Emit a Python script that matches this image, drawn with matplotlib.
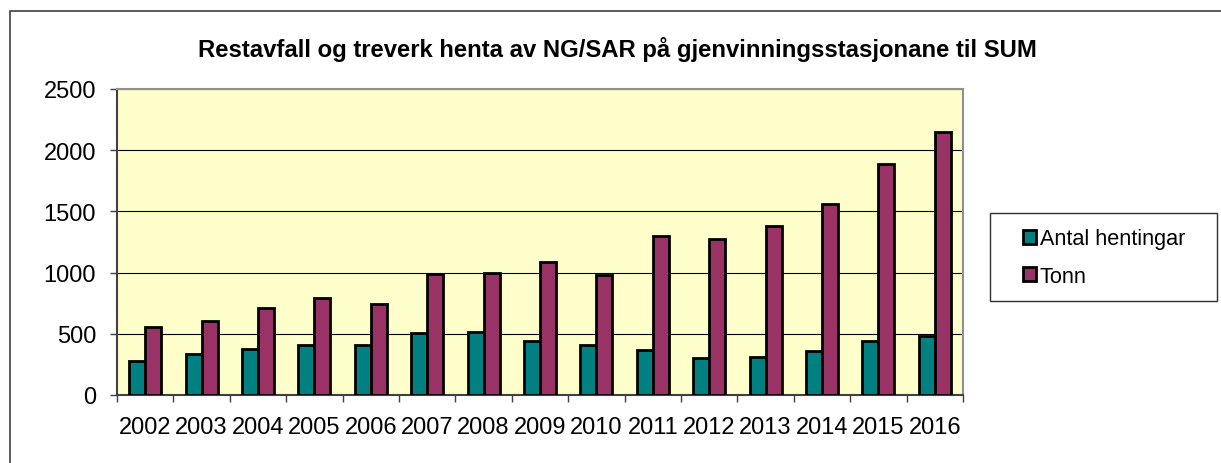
import numpy as np
import matplotlib.pyplot as plt
from matplotlib.patches import Rectangle

plt.rcParams["font.family"] = ["Liberation Sans", "DejaVu Sans"]

years = ["2002", "2003", "2004", "2005", "2006", "2007", "2008", "2009",
         "2010", "2011", "2012", "2013", "2014", "2015", "2016"]
antal = [275, 332, 379, 411, 406, 507, 512, 441, 411, 365, 300, 313, 357, 438, 485]
tonn = [553, 602, 708, 793, 741, 991, 997, 1087, 980, 1296, 1275, 1378, 1558, 1887, 2146]

W, H = 1221, 464
fig = plt.figure(figsize=(W / 100, H / 100), dpi=100)

# outer chart border (cut off on right and bottom)
fig.patches.append(Rectangle((10 / W, -0.1), 2, (H - 12) / H + 0.1,
                             transform=fig.transFigure, fill=False,
                             edgecolor="#404040", linewidth=1.2))

ax = fig.add_axes([117 / W, (H - 396) / H, 846 / W, 306 / H])
ax.set_facecolor("#FFFFCC")

x = np.arange(len(years))
bw = 0.285
ax.bar(x - bw / 2, antal, bw, color="#008080", edgecolor="black", linewidth=2,
       label="Antal hentingar", zorder=3)
ax.bar(x + bw / 2, tonn, bw, color="#993366", edgecolor="black", linewidth=2,
       label="Tonn", zorder=3)

ax.set_xlim(-0.5, len(years) - 0.5)
ax.set_ylim(0, 2500)
ax.set_yticks([0, 500, 1000, 1500, 2000, 2500])
ax.yaxis.grid(True, color="black", linewidth=0.8, zorder=1)

ax.set_xticks(x)
ax.set_xticklabels(years)
ax.set_xticks(np.arange(len(years) + 1) - 0.5, minor=True)
ax.tick_params(axis="x", which="major", length=0, pad=15, labelsize=17)
ax.tick_params(axis="x", which="minor", length=5, width=1, color="#404040")
ax.tick_params(axis="y", length=5, width=1, pad=10, labelsize=17, color="#404040")

ax.spines["left"].set_color("#404040")
ax.spines["bottom"].set_color("#404040")
ax.spines["top"].set_color("#909090")
ax.spines["right"].set_color("#909090")
for s in ax.spines.values():
    s.set_linewidth(1.5)

fig.text(0.506, 1 - 50 / H, "Restavfall og treverk henta av NG/SAR på gjenvinningsstasjonane til SUM",
         ha="center", va="center", fontsize=17.2, fontweight="bold")

# legend frame drawn separately
fig.patches.append(Rectangle((990 / W, 1 - 302 / H), 227 / W, 88 / H,
                             transform=fig.transFigure, fill=False,
                             edgecolor="#303030", linewidth=1.0))
leg = fig.legend(loc="center", bbox_to_anchor=(1104 / W, 1 - 258.5 / H),
                 fontsize=15.6, frameon=False, handlelength=0.6, handleheight=0.6,
                 handletextpad=0.2, labelspacing=0.75, borderpad=0, borderaxespad=0)

fig.savefig("out.png", dpi=100)
